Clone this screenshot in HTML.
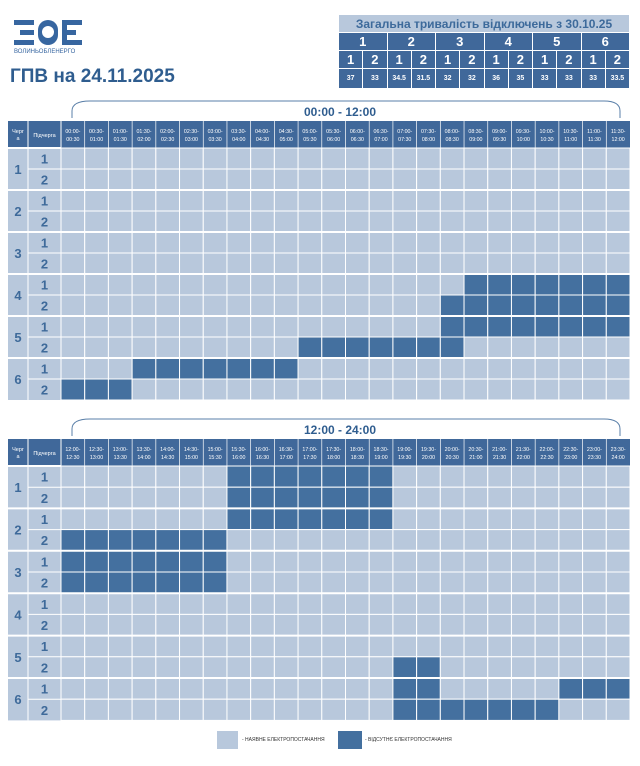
<!DOCTYPE html>
<html><head><meta charset="utf-8">
<style>
body{margin:0;width:640px;height:766px;background:#fff;font-family:"Liberation Sans",sans-serif;position:relative;overflow:hidden}
.abs{position:absolute}
.logo{left:14px;top:20px}
.title{left:10px;top:66px;font-size:19px;font-weight:bold;color:#2f5d8f}
table.sum{position:absolute;left:338px;top:14px;width:292px;border-collapse:collapse;table-layout:fixed}
table.sum td{border:1px solid #fff;text-align:center;color:#fff;font-weight:bold;padding:0}
</style></head><body>
<svg class="abs logo" width="70" height="36" viewBox="0 0 70 36">
<g fill="#3766a0">
<rect x="0" y="0" width="20" height="5"/><rect x="6" y="10" width="14" height="5"/><rect x="0" y="20" width="20" height="5"/>
<rect x="24" y="0" width="20" height="25" rx="10"/><rect x="48" y="0" width="20" height="5"/><rect x="48" y="10" width="14" height="5"/><rect x="48" y="20" width="20" height="5"/><rect x="48" y="0" width="5" height="25"/>
</g><circle cx="34" cy="12" r="6" fill="#fff"/>
<text x="0" y="33" font-size="6" fill="#3766a0" font-family="Liberation Sans">ВОЛИНЬОБЛЕНЕРГО</text>
</svg>
<div class="abs title">ГПВ на 24.11.2025</div>
<table class="sum">
<tr style="height:18px"><td colspan="12" style="background:#b8c8dc;color:#3d6a9b;font-size:12px">Загальна тривалість відключень з 30.10.25</td></tr>
<tr style="height:18px;background:#40689a;font-size:13px"><td colspan="2">1</td><td colspan="2">2</td><td colspan="2">3</td><td colspan="2">4</td><td colspan="2">5</td><td colspan="2">6</td></tr>
<tr style="height:18px;background:#40689a;font-size:13px"><td>1</td><td>2</td><td>1</td><td>2</td><td>1</td><td>2</td><td>1</td><td>2</td><td>1</td><td>2</td><td>1</td><td>2</td></tr>
<tr style="height:20px;background:#40689a;font-size:7px"><td>37</td><td>33</td><td>34.5</td><td>31.5</td><td>32</td><td>32</td><td>36</td><td>35</td><td>33</td><td>33</td><td>33</td><td>33.5</td></tr>
</table>
<svg id="grid" class="abs" style="left:0;top:0" width="640" height="766"></svg>
<script>
// outage data: [queue index 0-11 (row), start slot, end slot inclusive]
const outagesAM = [[6,17,23],[7,16,23],[8,16,23],[9,10,16],[10,3,9],[11,0,2]];
const outagesPM = [[0,7,13],[1,7,13],[2,7,13],[3,0,6],[4,0,6],[5,0,6],[9,14,15],[10,14,15],[10,21,23],[11,14,20]];
const queues = ["1","2","3","4","5","6"];
const subqueues = ["1","2"];
const ns="http://www.w3.org/2000/svg";
const svg=document.getElementById('grid');
function mk(tag,a,parent){const e=document.createElementNS(ns,tag);for(const k in a)e.setAttribute(k,a[k]);(parent||svg).appendChild(e);return e;}
function pad(n){return String(n).padStart(2,'0');}
function slotLabel(s){const a=s*30,b=a+30;return [pad(Math.floor(a/60))+':'+pad(a%60)+'-',pad(Math.floor(b/60))+':'+pad(b%60)];}
const X0=8,X1=28,X2=61,XE=630,CW=(XE-X2)/24;
function drawTable(top,rowH,offset,outs,label,name){
  const g=mk('g',{});
  
  
  const hy=top+27;
  // bracket
  mk('path',{d:`M72 ${top-3} V${top-10} Q72 ${top-20} 90 ${top-20} H604 Q620 ${top-20} 620 ${top-10} V${top-3}`,fill:'none',stroke:'#5a7fa8','stroke-width':1},g);
  const t=mk('text',{x:340,y:top-5,'text-anchor':'middle','font-size':12,'font-weight':'bold',fill:'#2f5d8f'},g);t.textContent=label;
  
  
  mk('rect',{x:X0,y:top,width:XE-X0,height:27,fill:'#40689a'},g);
  let tt=mk('text',{x:(X0+X1)/2,y:top+12,'text-anchor':'middle','font-size':5.5,fill:'#fff'},g);tt.textContent='Черг';
  tt=mk('text',{x:(X0+X1)/2,y:top+19,'text-anchor':'middle','font-size':5.5,fill:'#fff'},g);tt.textContent='а';
  tt=mk('text',{x:(X1+X2)/2,y:top+16,'text-anchor':'middle','font-size':5.5,fill:'#fff'},g);tt.textContent='Підчерга';
  for(let i=0;i<24;i++){const l=slotLabel(offset+i);const cx=X2+CW*(i+0.5);
    let a=mk('text',{x:cx,y:top+12,'text-anchor':'middle','font-size':5.3,fill:'#fff'},g);a.textContent=l[0];
    a=mk('text',{x:cx,y:top+20,'text-anchor':'middle','font-size':5.3,fill:'#fff'},g);a.textContent=l[1];}
  const dark={};outs.forEach(o=>{for(let s=o[1];s<=o[2];s++)dark[o[0]+'_'+s]=1;});
  mk('rect',{x:X0,y:hy,width:X2-X0,height:rowH*12,fill:'#b8c8dc'},g);
  for(let r=0;r<12;r++){const y=hy+r*rowH;
    for(let s=0;s<24;s++){const c=mk('rect',{x:X2+s*CW,y:y,width:CW,height:rowH,fill:dark[r+'_'+s]?'#44709f':'#b8c8dc',stroke:'#fff','stroke-width':1},g);
      
      }
    const st=mk('text',{x:(X1+X2)/2,y:y+rowH/2+5,'text-anchor':'middle','font-size':13,'font-weight':'bold',fill:'#3e6a9a'},g);st.textContent=subqueues[r%2];
    mk('line',{x1:X1,x2:X2,y1:y,y2:y,stroke:'#fff','stroke-width':r%2?1:2},g);
    if(r%2==0){mk('line',{x1:X0,x2:X1,y1:y,y2:y,stroke:'#fff','stroke-width':2},g);
      const q=mk('text',{x:(X0+X1)/2,y:y+rowH+5,'text-anchor':'middle','font-size':13,'font-weight':'bold',fill:'#3e6a9a'},g);q.textContent=queues[r/2];}
  }
  for(let r=2;r<12;r+=2)mk('line',{x1:X2,x2:XE,y1:hy+r*rowH,y2:hy+r*rowH,stroke:'#fff','stroke-width':2},g);
  mk('line',{x1:X1,x2:X1,y1:top,y2:hy+12*rowH,stroke:'#fff','stroke-width':1},g);
  mk('line',{x1:X2,x2:X2,y1:top,y2:hy+12*rowH,stroke:'#fff','stroke-width':1},g);
  for(let i=1;i<24;i++)mk('line',{x1:X2+i*CW,x2:X2+i*CW,y1:top,y2:hy,stroke:'#fff','stroke-width':0.7},g);
}
drawTable(121,21,0,outagesAM,'00:00 - 12:00','schedule-table-am');
drawTable(439,21.2,24,outagesPM,'12:00 - 24:00','schedule-table-pm');
</script>
<div class="abs" style="left:217px;top:731px;width:21px;height:18px;background:#b8c8dc"></div>
<div class="abs" style="left:242px;top:737px;font-size:5px;color:#333">- НАЯВНЕ ЕЛЕКТРОПОСТАЧАННЯ</div>
<div class="abs" style="left:338px;top:731px;width:24px;height:18px;background:#44709f"></div>
<div class="abs" style="left:365px;top:737px;font-size:5px;color:#333">- ВІДСУТНЄ ЕЛЕКТРОПОСТАЧАННЯ</div>
</body></html>
